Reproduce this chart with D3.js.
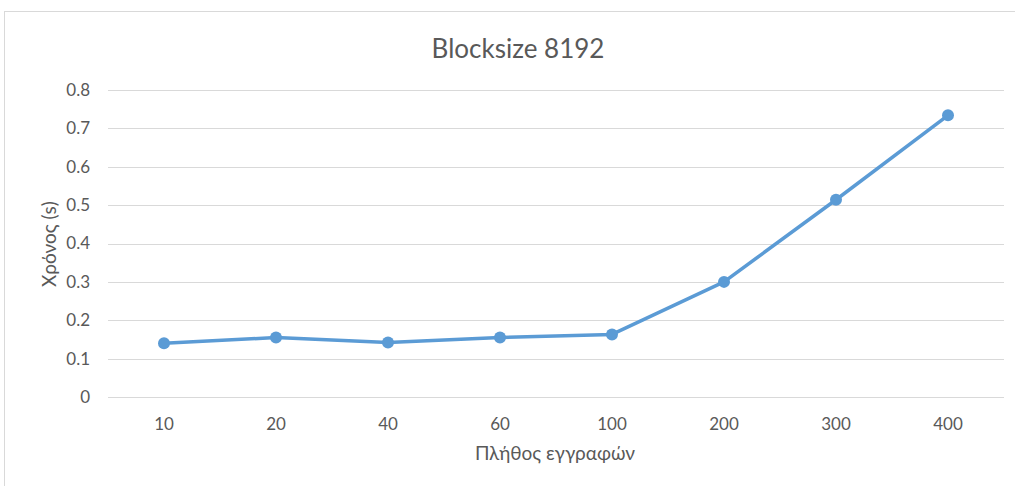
<!DOCTYPE html>
<html>
<head>
<meta charset="utf-8">
<script src="https://cdn.jsdelivr.net/npm/d3@7"></script>
<style>
  body { margin: 0; background: #fff; }
  text { font-family: Lato, "Open Sans", sans-serif; fill: #595959; }
</style>
</head>
<body>
<div id="chart"></div>
<script>
// chart data
var categories = ["10", "20", "40", "60", "100", "200", "300", "400"];
var times = [0.14, 0.155, 0.142, 0.155, 0.163, 0.30, 0.514, 0.734];
var yTicks = [0, 0.1, 0.2, 0.3, 0.4, 0.5, 0.6, 0.7, 0.8];

var svgWidth = 1015;
var svgHeight = 486;

var margin = { top: 90, right: 11, bottom: 89, left: 108 };
var width = svgWidth - margin.left - margin.right;
var height = svgHeight - margin.top - margin.bottom;

var svg = d3.select("#chart")
  .append("svg")
  .attr("width", svgWidth)
  .attr("height", svgHeight);

// outer frame
svg.append("rect")
  .attr("x", 4.5)
  .attr("y", 11.5)
  .attr("width", 1020)
  .attr("height", 500)
  .attr("fill", "none")
  .attr("stroke", "#d9d9d9");

var chartGroup = svg.append("g")
  .attr("transform", `translate(${margin.left}, ${margin.top})`);

var xScale = d3.scaleBand()
  .domain(categories)
  .range([0, width]);

var yScale = d3.scaleLinear()
  .domain([0, 0.8])
  .range([height, 0]);

// gridlines
chartGroup.selectAll(".grid")
  .data(yTicks)
  .enter()
  .append("line")
  .attr("x1", 0)
  .attr("x2", width)
  .attr("y1", d => Math.round(yScale(d)) + 0.5)
  .attr("y2", d => Math.round(yScale(d)) + 0.5)
  .attr("stroke", "#d9d9d9")
  .attr("stroke-width", 1);

// y axis
var leftAxis = d3.axisLeft(yScale)
  .tickValues(yTicks)
  .tickSize(0)
  .tickPadding(18)
  .tickFormat(d => d === 0 ? "0" : d3.format(".1f")(d));

chartGroup.append("g")
  .call(leftAxis)
  .call(g => g.select(".domain").remove())
  .selectAll("text")
  .style("font-size", "17px")
  .attr("fill", "#595959");

// x axis
var bottomAxis = d3.axisBottom(xScale)
  .tickSize(0)
  .tickPadding(21);

chartGroup.append("g")
  .attr("transform", `translate(0, ${height})`)
  .call(bottomAxis)
  .call(g => g.select(".domain").remove())
  .selectAll("text")
  .style("font-size", "17px")
  .attr("fill", "#595959");

// line
var line = d3.line()
  .x((d, i) => xScale(categories[i]) + xScale.bandwidth() / 2)
  .y(d => yScale(d));

chartGroup.append("path")
  .datum(times)
  .attr("d", line)
  .attr("fill", "none")
  .attr("stroke", "#5B9BD5")
  .attr("stroke-width", 3.5)
  .attr("stroke-linejoin", "round");

chartGroup.selectAll(".dot")
  .data(times)
  .enter()
  .append("circle")
  .attr("cx", (d, i) => xScale(categories[i]) + xScale.bandwidth() / 2)
  .attr("cy", d => yScale(d))
  .attr("r", 6)
  .attr("fill", "#5B9BD5");

// title
svg.append("text")
  .attr("x", 518)
  .attr("y", 58)
  .style("text-anchor", "middle")
  .style("font-size", "26px")
  .text("Blocksize 8192");

// axis titles
svg.append("text")
  .attr("x", 555)
  .attr("y", 460)
  .style("text-anchor", "middle")
  .style("font-size", "19px")
  .text("Πλήθος εγγραφών");

svg.append("text")
  .attr("transform", "rotate(-90)")
  .attr("x", -244)
  .attr("y", 56)
  .style("text-anchor", "middle")
  .style("font-size", "19px")
  .text("Χρόνος (s)");
</script>
</body>
</html>
